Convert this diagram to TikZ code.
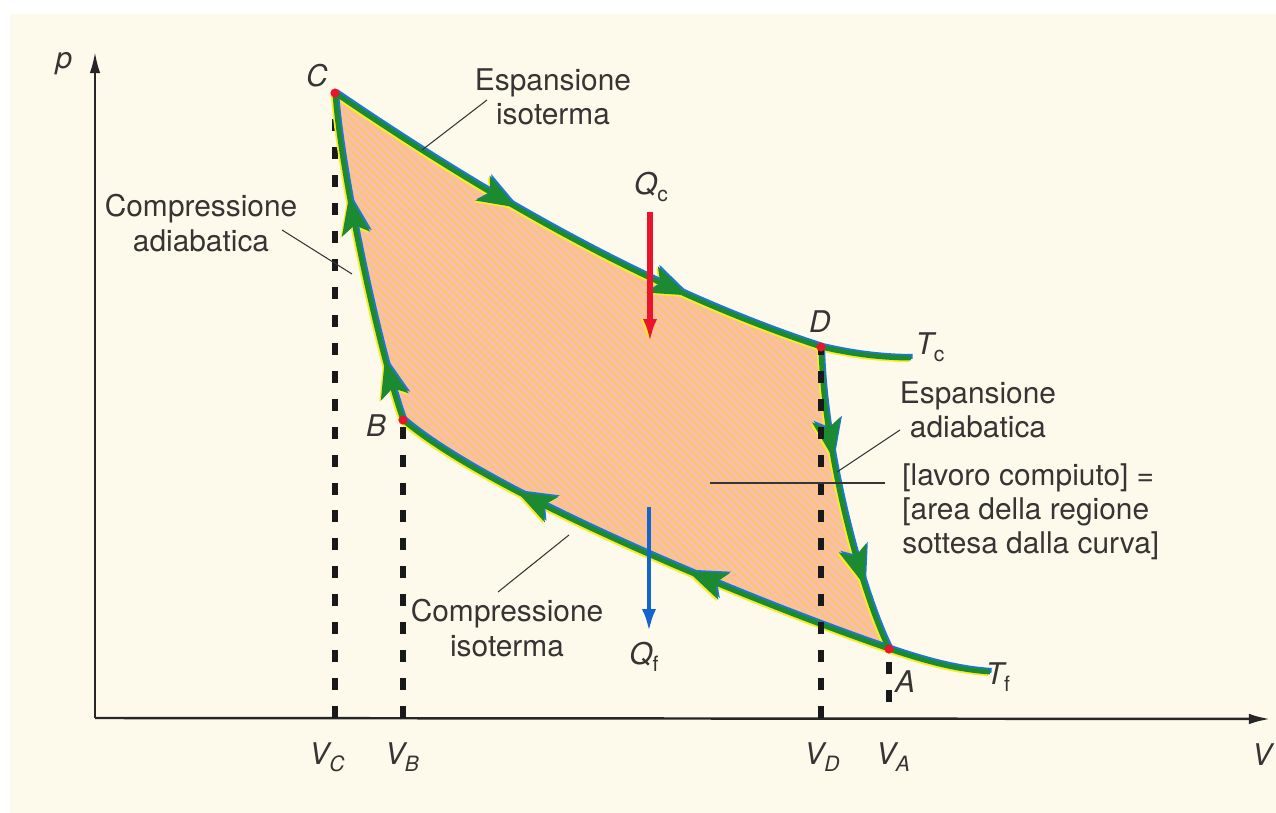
\documentclass[tikz,border=0pt]{standalone}
\usepackage{fontspec}
\setmainfont{TeX Gyre Heros}
\usetikzlibrary{arrows.meta,decorations.markings,patterns.meta}

\definecolor{paper}{RGB}{253,250,236}
\definecolor{curvegreen}{RGB}{28,138,48}
\definecolor{edgeblue}{RGB}{30,120,210}
\definecolor{edgeyellow}{RGB}{250,235,40}
\definecolor{dotred}{RGB}{235,20,45}
\definecolor{areaorange}{RGB}{249,198,118}
\definecolor{hatchpink}{RGB}{250,188,182}
\definecolor{inkgray}{RGB}{55,52,52}
\definecolor{heatblue}{RGB}{20,100,205}

\newcommand{\lowidx}[1]{\raisebox{-0.45ex}{\fontsize{12}{12}\selectfont #1}}

\begin{document}
\begin{tikzpicture}[
  x=0.02cm, y=-0.02cm,
  font=\fontsize{17}{19.5}\selectfont,
  txt/.style={text=inkgray, inner sep=0pt, align=center},
  var/.style={txt, font=\fontsize{17}{19.5}\selectfont\itshape},
  axis/.style={line width=1.4pt, draw=black!85, -{Latex[length=12pt,width=6pt]}},
  lead/.style={line width=0.6pt, draw=inkgray},
  curve/.style={line width=2.8pt},
  guide/.style={line width=3.2pt, draw=black!90, dash pattern=on 6.8pt off 9.1pt},
  flow/.style 2 args={decoration={markings,
      mark=at position #1 with {\arrow{Stealth[length=22pt,width=16pt,inset=5pt]}},
      mark=at position #2 with {\arrow{Stealth[length=22pt,width=16pt,inset=5pt]}}},
    postaction={decorate}},
  heatin/.style={line width=3.2pt, draw=dotred, -{Latex[length=13pt,width=8pt]},
    preaction={draw=edgeyellow, transform canvas={xshift=-1.3pt}}},
  heatout/.style={line width=2.8pt, draw=heatblue, -{Latex[length=13pt,width=8pt]}}
]
  \useasboundingbox (0,0) rectangle (1276,813);
  \fill[white] (0,0) rectangle (1276,813);
  \fill[paper] (10,14) rectangle (1276,813);

  % corners of the cycle
  \coordinate (O) at (95,718);
  \coordinate (C) at (335,93);
  \coordinate (B) at (403,420);
  \coordinate (D) at (821,347);
  \coordinate (A) at (889,649);
  \coordinate (Tcend) at (911,358);
  \coordinate (Tfend) at (990,672);
  \coordinate (Afoot) at (889,702);

  % shaded work area
  \fill[areaorange, postaction={pattern={Lines[angle=-45,distance=3.2pt,line width=1.5pt]}, pattern color=hatchpink}]
    (C) .. controls (470,185) and (640,288) .. (D)
        .. controls (823,450) and (860,590) .. (A)
        .. controls (760,605) and (490,495) .. (B)
        .. controls (378,350) and (340,170) .. (C) -- cycle;

  \draw[axis] (O) -- (95,52);
  \draw[axis] (O) -- (1270,719);

  \draw[guide] (C |- O) -- (C);

  \foreach \dx/\dy/\col in {-0.9/-0.9/edgeyellow, 0.9/0.9/edgeblue, 0/0/curvegreen}{
    \begin{scope}[transform canvas={shift={(\dx pt,\dy pt)}}, color=\col]
      \draw[curve, flow={0.39}{0.74}] (C) .. controls (470,185) and (640,288) .. (D);
      \draw[curve] (D) .. controls (855,355) and (885,358) .. (Tcend);
      \draw[curve, flow={0.36}{0.78}] (D) .. controls (823,450) and (860,590) .. (A);
      \draw[curve, flow={0.40}{0.75}] (A) .. controls (760,605) and (490,495) .. (B);
      \draw[curve] (A) .. controls (930,663) and (960,670) .. (Tfend);
      \draw[curve, flow={0.19}{0.69}] (B) .. controls (378,350) and (340,170) .. (C);
    \end{scope}
  }

  \draw[guide] (B |- O) -- (B);
  \draw[guide] (D |- O) -- (D);
  \draw[guide] (Afoot) -- (A);

  \foreach \pt in {A,B,C,D}
    \fill[dotred] (\pt) circle[radius=2.6pt];

  % heat flows
  \node[txt] (qc) at (651,187) {{\itshape Q}\lowidx{c}};
  \node[txt] (qf) at (644,657) {{\itshape Q}\lowidx{f}};
  \coordinate (Qctail) at (650,212);
  \coordinate (Qchead) at (650,342);
  \coordinate (Qftail) at (649,507);
  \coordinate (Qfhead) at (649,632);
  \draw[heatin] (Qctail) -- (Qchead);
  \draw[heatout] (Qftail) -- (Qfhead);

  % labels
  \node[var] (plab) at (64,64) {p};
  \node[var] (vlab) at (1262,755) {V};
  \node[var] (clab) at (317,76) {C};
  \node[var] (blab) at (376,426) {B};
  \node[var] (dlab) at (820,322) {D};
  \node[var] (alab) at (905,682) {A};
  \node[txt] (tc) at (930,347) {{\itshape T}\lowidx{c}};
  \node[txt] (tf) at (998,677) {{\itshape T}\lowidx{f}};
  \node[var] (vc) at (327,757) {V\lowidx{C}};
  \node[var] (vb) at (402,757) {V\lowidx{B}};
  \node[var] (vd) at (822,757) {V\lowidx{D}};
  \node[var] (va) at (893,757) {V\lowidx{A}};

  \node[txt] (isoexp) at (553,97) {Espansione\\isoterma};
  \node[txt] (adcomp) at (201,223) {Compressione\\adiabatica};
  \node[txt] (isocomp) at (507,628) {Compressione\\isoterma};
  \node[txt] (adexp) at (978,410) {Espansione\\adiabatica};
  \node[txt, align=left, anchor=west] (work) at (902,512)
    {{[}lavoro compiuto{]} =\\{[}area della regione\\sottesa dalla curva{]}};

  % leader lines
  \coordinate (isoexpA) at (487,100);
  \coordinate (isoexpB) at (422,150);
  \coordinate (adcompA) at (282,230);
  \coordinate (adcompB) at (352,274);
  \coordinate (isocompA) at (498,592);
  \coordinate (isocompB) at (569,535);
  \coordinate (adexpA) at (900,430);
  \coordinate (adexpB) at (837,472);
  \coordinate (workA) at (885,483);
  \coordinate (workB) at (710,483);
  \draw[lead] (isoexpA) -- (isoexpB);
  \draw[lead] (adcompA) -- (adcompB);
  \draw[lead] (isocompA) -- (isocompB);
  \draw[lead] (adexpA) -- (adexpB);
  \draw[lead] (workA) -- (workB);
\end{tikzpicture}
\end{document}
